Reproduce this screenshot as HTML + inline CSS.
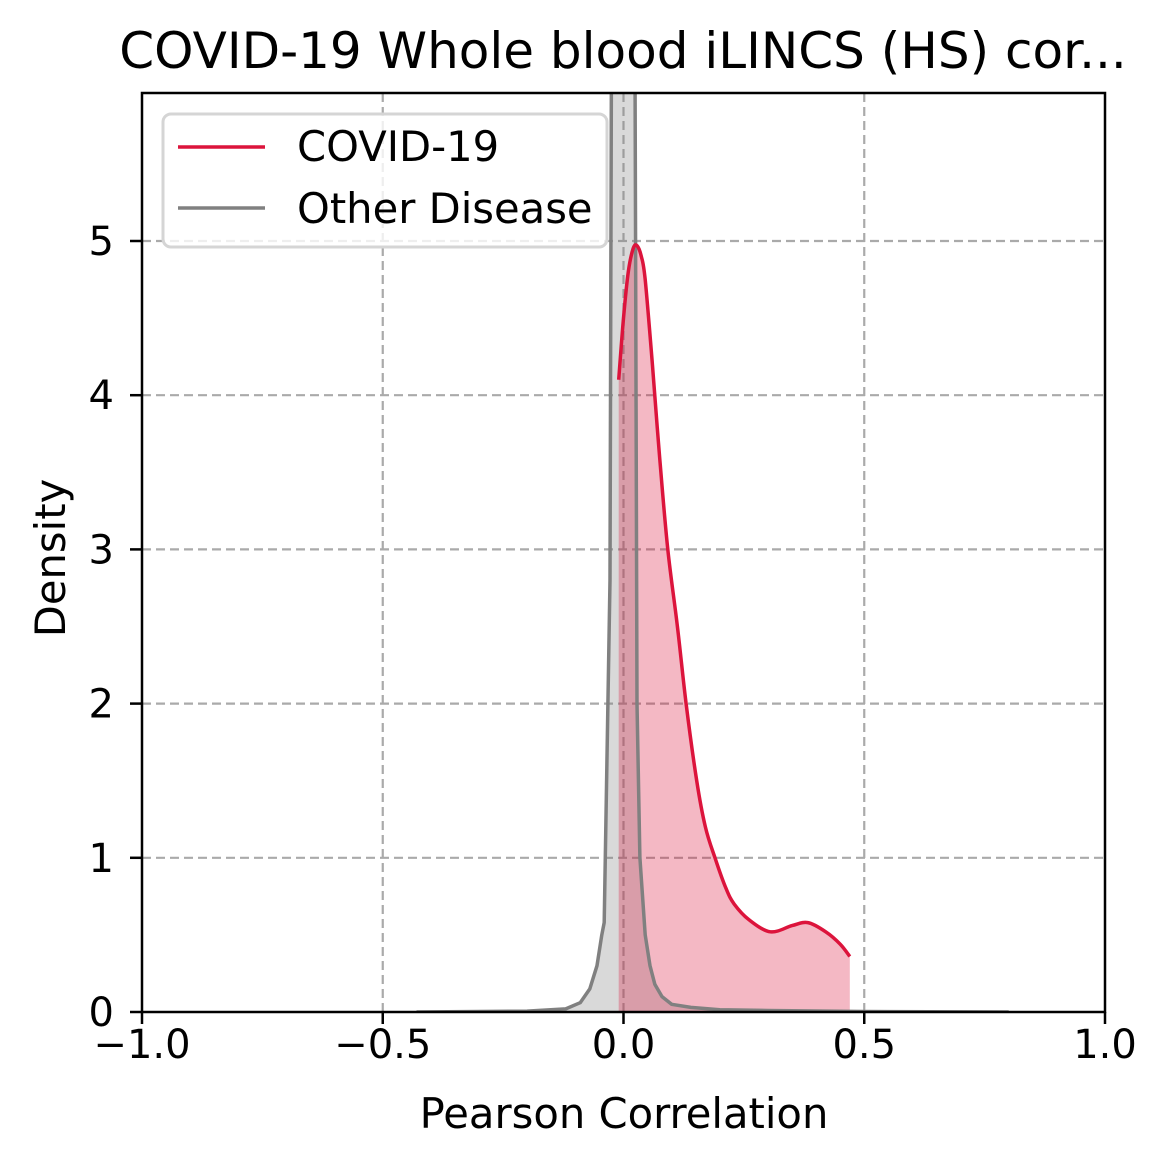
<!DOCTYPE html>
<html><head><meta charset="utf-8"><style>
html,body{margin:0;padding:0;background:#fff}
svg{display:block;font-family:"DejaVu Sans","Liberation Sans",sans-serif}
</style></head><body>
<svg id="chart" width="1167" height="1168" viewBox="0 0 1167 1168" xmlns="http://www.w3.org/2000/svg">
<defs><clipPath id="clip"><rect x="142" y="93" width="963" height="919"/></clipPath></defs>
<rect width="1167" height="1168" fill="#fff"/>
<g id="grid"></g>
<g id="marks" clip-path="url(#clip)"></g>
<rect x="142" y="93" width="963" height="919" fill="none" stroke="#000" stroke-width="2.5"/>
<g id="ticks"></g>
<text x="623" y="68" font-size="50" text-anchor="middle">COVID-19 Whole blood iLINCS (HS) cor...</text>
<text x="624" y="1128" font-size="41.7" text-anchor="middle">Pearson Correlation</text>
<text x="0" y="0" font-size="41.7" text-anchor="middle" transform="translate(65,558) rotate(-90)">Density</text>
<g>
<rect x="163" y="114" width="444" height="133" rx="8" fill="#fff" fill-opacity="0.8" stroke="#d5d5d5" stroke-width="3"/>
<line x1="178" y1="147" x2="265" y2="147" stroke="#dc143c" stroke-width="3.5"/>
<text x="297" y="161" font-size="41.7">COVID-19</text>
<line x1="178" y1="208" x2="265" y2="208" stroke="#808080" stroke-width="3.5"/>
<text x="297" y="223" font-size="41.7">Other Disease</text>
</g>
</svg>
<script>
const xTicks=[-1.0,-0.5,0.0,0.5,1.0];
const xTickLabels=["\u22121.0","\u22120.5","0.0","0.5","1.0"];
const yTicks=[0,1,2,3,4,5];
const yTickLabels=["0","1","2","3","4","5"];
const otherX=[-0.43,-0.3,-0.2,-0.12,-0.09,-0.07,-0.055,-0.045,-0.04,-0.028,-0.02,0.0,0.018,0.028,0.034,0.045,0.055,0.065,0.08,0.1,0.14,0.2,0.3,0.5,0.8];
const otherY=[0,0.003,0.006,0.02,0.06,0.15,0.3,0.5,0.58,2.8,12,20,12,2,1,0.5,0.3,0.18,0.1,0.05,0.03,0.015,0.01,0.003,0];
const covidX=[-0.01,0.0,0.01,0.02,0.028,0.037,0.045,0.06,0.075,0.092,0.112,0.13,0.152,0.17,0.19,0.213,0.23,0.26,0.305,0.35,0.383,0.42,0.45,0.47];
const covidY=[4.1,4.5,4.8,4.95,4.97,4.9,4.75,4.2,3.6,3.0,2.5,2.0,1.5,1.2,1.0,0.8,0.7,0.6,0.52,0.56,0.58,0.52,0.44,0.36];
const sx=v=>623.5+v*481.5;
const sy=v=>1012-v*154.2;
const NS="http://www.w3.org/2000/svg";
function mk(tag,attrs,parent){const e=document.createElementNS(NS,tag);for(const k in attrs)e.setAttribute(k,attrs[k]);parent.appendChild(e);return e;}
const grid=document.getElementById('grid'),ticks=document.getElementById('ticks'),marks=document.getElementById('marks');
xTicks.forEach((t,i)=>{
 if(i>0&&i<xTicks.length-1){const g=mk('line',{x1:sx(t),x2:sx(t),y1:93,y2:1012,stroke:'#aaaaaa','stroke-width':2.2,'stroke-dasharray':'9 5'},grid);
 
 }
 const tk=mk('line',{x1:sx(t),x2:sx(t),y1:1012,y2:1024,stroke:'#000','stroke-width':2.5},ticks);
 
 
 const tl=mk('text',{x:sx(t),y:1058,'font-size':40,'text-anchor':'middle'},ticks);tl.textContent=xTickLabels[i];
 
 
});
yTicks.forEach((t,i)=>{
 if(t>0){const g=mk('line',{x1:142,x2:1105,y1:sy(t),y2:sy(t),stroke:'#aaaaaa','stroke-width':2.2,'stroke-dasharray':'9 5'},grid);
 
 }
 const tk=mk('line',{x1:130,x2:142,y1:sy(t),y2:sy(t),stroke:'#000','stroke-width':2.5},ticks);
 
 
 const tl=mk('text',{x:114,y:sy(t)+14,'font-size':40,'text-anchor':'end'},ticks);tl.textContent=yTickLabels[i];
 
 
});
function smooth(X,Y){
 const P=X.map((x,i)=>[sx(x),sy(Y[i])]);
 let d='M'+P[0][0].toFixed(1)+','+P[0][1].toFixed(1);
 for(let i=0;i<P.length-1;i++){
  const p0=P[Math.max(0,i-1)],p1=P[i],p2=P[i+1],p3=P[Math.min(P.length-1,i+2)];
  const c1=[p1[0]+(p2[0]-p0[0])/6,p1[1]+(p2[1]-p0[1])/6];
  const c2=[p2[0]-(p3[0]-p1[0])/6,p2[1]-(p3[1]-p1[1])/6];
  d+=' C'+c1.map(v=>v.toFixed(1)).join(',')+' '+c2.map(v=>v.toFixed(1)).join(',')+' '+p2[0].toFixed(1)+','+p2[1].toFixed(1);
 }
 return d;
}
function pts(X,Y){return 'M'+X.map((x,i)=>sx(x).toFixed(1)+','+sy(Y[i]).toFixed(1)).join(' L');}
const od=pts(otherX,otherY),cd=smooth(covidX,covidY);
const of=mk('path',{d:od+' L'+sx(otherX[otherX.length-1])+','+sy(0)+' L'+sx(otherX[0])+','+sy(0)+' Z',fill:'#808080','fill-opacity':0.3},marks);


const cf=mk('path',{d:cd+' L'+sx(covidX[covidX.length-1])+','+sy(0)+' L'+sx(covidX[0])+','+sy(0)+' Z',fill:'#dc143c','fill-opacity':0.3},marks);


const ol=mk('path',{d:od,fill:'none',stroke:'#808080','stroke-width':3.5,'stroke-linejoin':'round'},marks);


const cl=mk('path',{d:cd,fill:'none',stroke:'#dc143c','stroke-width':3.5,'stroke-linejoin':'round'},marks);


</script>
</body></html>
